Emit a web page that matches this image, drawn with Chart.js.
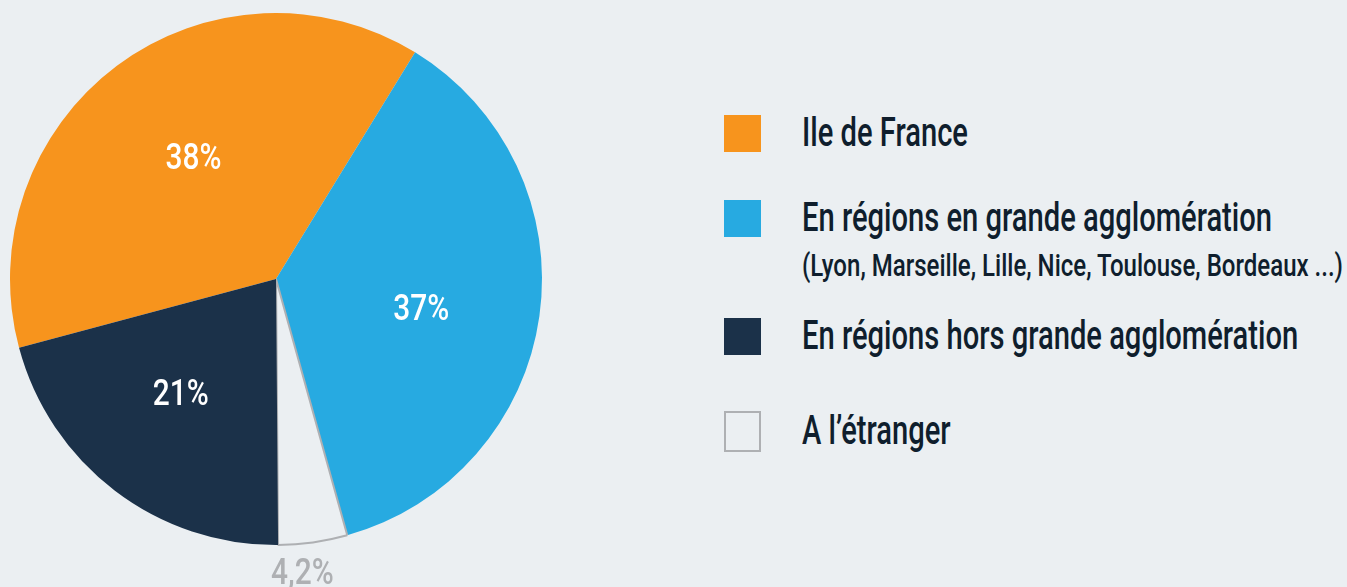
<!DOCTYPE html>
<html>
<head>
<meta charset="utf-8">
<script src="https://cdn.jsdelivr.net/npm/chart.js@4"></script>
<style>
    html, body { margin: 0; padding: 0; background: #ebeff2; }
    body { width: 1347px; height: 587px; position: relative; overflow: hidden;
           font-family: Roboto, "DejaVu Sans Condensed", sans-serif; }
    #pieWrap { position: absolute; left: 0; top: 0; width: 600px; height: 587px; }
    #legend { position: absolute; left: 724px; top: 0; }
    .item { position: absolute; left: 0; white-space: nowrap; }
    .box { position: absolute; left: 0; width: 37px; height: 37px; box-sizing: border-box; }
    .label, .sub { position: absolute; left: 78px; color: #0f1e2d; line-height: 1; transform-origin: left top; font-weight: 500; }
    .label { font-size: 40px; top: -2px; }
    .sub { font-size: 31px; top: 50px; }
</style>
</head>
<body>
<div id="pieWrap"><canvas id="pie" width="600" height="587"></canvas></div>
<div id="legend"></div>
<script>
// slices in clockwise drawing order
const labels = ['Ile de France', 'En régions en grande agglomération', 'A l’étranger', 'En régions hors grande agglomération'];
const values = [38, 37, 4.2, 21];
const subLabels = ['', '(Lyon, Marseille, Lille, Nice, Toulouse, Bordeaux ...)', '', ''];
const colors = ['#f7941d', '#27aae1', '#ebeff2', '#1b3149'];
const legendOrder = [0, 1, 3, 2];
const legendTops = [115, 200, 318, 413];

// the original font is a narrow one: squeeze the text to the same widths
const titleWidth = 470;   // width of "En régions en grande agglomération"
const subWidth = 541;

const legend = document.getElementById('legend');
const titleEls = [];
let subEl = null;
legendOrder.forEach((idx, n) => {
    const item = document.createElement('div');
    item.className = 'item';
    item.style.top = legendTops[n] + 'px';
    const box = document.createElement('div');
    box.className = 'box';
    box.style.background = colors[idx];
    if (idx === 2) {
        box.style.border = '2px solid #aeb0b3';
        box.style.top = '-2px';
        box.style.height = '41px';
    }
    item.appendChild(box);
    const lab = document.createElement('div');
    lab.className = 'label';
    lab.textContent = labels[idx];
    item.appendChild(lab);
    titleEls.push(lab);
    if (subLabels[idx]) {
        subEl = document.createElement('div');
        subEl.className = 'sub';
        subEl.textContent = subLabels[idx];
        item.appendChild(subEl);
    }
    legend.appendChild(item);
});
const titleScale = titleWidth / titleEls[1].getBoundingClientRect().width;
titleEls.forEach(el => { el.style.transform = 'scaleX(' + titleScale + ')'; });
subEl.style.transform = 'scaleX(' + (subWidth / subEl.getBoundingClientRect().width) + ')';

// percentage labels on the slices
const sliceLabels = {
    id: 'sliceLabels',
    afterDatasetsDraw(chart) {
        const ctx = chart.ctx;
        const meta = chart.getDatasetMeta(0);
        const size = 36;
        ctx.save();
        ctx.textAlign = 'center';
        ctx.textBaseline = 'alphabetic';
        ctx.font = '500 ' + size + 'px Roboto, sans-serif';
        const sx = 56 / ctx.measureText('38%').width;
        meta.data.forEach((arc, i) => {
            const mid = (arc.startAngle + arc.endAngle) / 2 + 2.85 * Math.PI / 180;
            const outside = values[i] < 10;
            const k = outside ? 1.103 : 0.556;
            const x = arc.x + Math.cos(mid) * arc.outerRadius * k;
            const y = arc.y + Math.sin(mid) * arc.outerRadius * k;
            ctx.save();
            ctx.translate(x, y + size * 0.711 / 2);
            ctx.scale(sx, 1);
            ctx.fillStyle = outside ? '#aeb0b3' : '#ffffff';
            ctx.fillText(String(values[i]).replace('.', ',') + '%', 0, 0);
            ctx.restore();
        });
        ctx.restore();
    }
};

new Chart(document.getElementById('pie'), {
    type: 'pie',
    data: {
        labels: labels,
        datasets: [{
            data: values,
            backgroundColor: colors,
            borderColor: ['#f7941d', '#27aae1', '#aeb0b3', '#1b3149'],
            borderWidth: [0, 0, 2, 0]
        }]
    },
    options: {
        responsive: false,
        animation: false,
        rotation: 255,
        layout: {
            padding: { left: 9, right: 57, top: 12, bottom: 41 }
        },
        plugins: {
            legend: { display: false },
            tooltip: { enabled: false }
        }
    },
    plugins: [sliceLabels]
});
</script>
</body>
</html>
